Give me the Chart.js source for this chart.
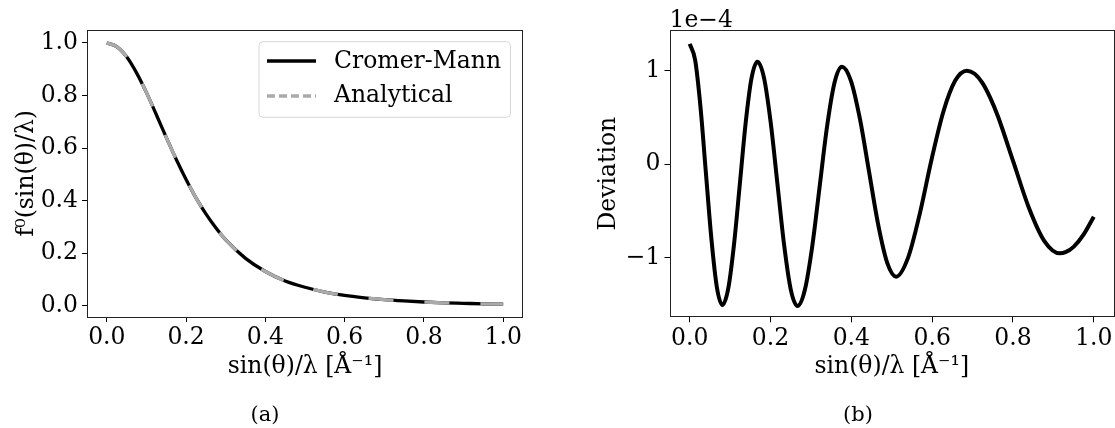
<!DOCTYPE html>
<html>
<head>
<meta charset="utf-8">
<script src="https://cdn.jsdelivr.net/npm/chart.js@4.4.1/dist/chart.umd.min.js"></script>
<style>
  html, body { margin: 0; padding: 0; background: #fff; }
  #wrap { position: relative; width: 1115px; height: 428px; overflow: hidden; }
  canvas { position: absolute; top: 0; }
  .cap { position: absolute; font-family: "DejaVu Serif", serif; font-size: 21px; color: #000;
         transform: translate(-50%, -50%); white-space: nowrap; }
</style>
</head>
<body>
<div id="wrap">
  <canvas id="ca" width="557" height="428" style="left:0px"></canvas>
  <canvas id="cb" width="558" height="428" style="left:557px"></canvas>
  <div class="cap" style="left:265px; top:414px">(a)</div>
  <div class="cap" style="left:858px; top:414px">(b)</div>
</div>
<script>
// ---------- data ----------
const sX = [0, 0.025, 0.05, 0.075, 0.1, 0.125, 0.15, 0.175, 0.2, 0.225, 0.25, 0.275, 0.3,
            0.35, 0.4, 0.45, 0.5, 0.55, 0.6, 0.65, 0.7, 0.75, 0.8, 0.85, 0.9, 0.95, 1.0];
const cromerMann = [1.000, 0.986, 0.947, 0.886, 0.811, 0.727, 0.641, 0.558, 0.481, 0.411, 0.350, 0.297, 0.251,
                    0.181, 0.131, 0.095, 0.071, 0.053, 0.040, 0.031, 0.024, 0.019, 0.015, 0.012, 0.010, 0.008, 0.007];
const analytical = [1.000, 0.986, 0.947, 0.886, 0.811, 0.727, 0.641, 0.558, 0.481, 0.411, 0.350, 0.297, 0.251,
                    0.181, 0.131, 0.095, 0.071, 0.053, 0.040, 0.031, 0.024, 0.019, 0.015, 0.012, 0.010, 0.008, 0.007];

// deviation (Cromer-Mann - analytical), in units of 1e-4
const devExponent = -4;
const devX = [0, 0.0135, 0.0269, 0.0404, 0.0539, 0.0673, 0.0808, 0.0953, 0.1097, 0.1242, 0.1386, 0.1531,
              0.1675, 0.1840, 0.2005, 0.2171, 0.2336, 0.2501, 0.2666, 0.2849, 0.3033, 0.3216, 0.3399, 0.3583,
              0.3766, 0.3990, 0.4214, 0.4438, 0.4662, 0.4886, 0.511, 0.5402, 0.5693, 0.5985, 0.6277, 0.6568,
              0.686, 0.7051, 0.7243, 0.7435, 0.7627, 0.8010, 0.8393, 0.8777, 0.916, 0.93, 0.95, 0.975, 1.0];
const devY = [1.283, 1.110, 0.600, -0.110, -0.807, -1.316, -1.503, -1.329, -0.854, -0.205, 0.445, 0.920,
              1.094, 0.919, 0.442, -0.210, -0.861, -1.338, -1.513, -1.342, -0.875, -0.237, 0.402, 0.869,
              1.040, 0.890, 0.480, -0.080, -0.640, -1.050, -1.200, -1.000, -0.530, 0.050, 0.560, 0.890,
              0.998, 0.965, 0.867, 0.710, 0.511, 0.024, -0.464, -0.820, -0.951, -0.939, -0.882, -0.749, -0.560];

const xTicks = [0, 0.2, 0.4, 0.6, 0.8, 1.0];
const fTicks = [0, 0.2, 0.4, 0.6, 0.8, 1.0];
const devTicks = [-1, 0, 1];
const legendLabels = ['Cromer-Mann', 'Analytical'];

// ---------- styling ----------
const FONT = "'DejaVu Serif', serif";
const FS = 23.5;
const fnt = { family: FONT, size: FS };
const xTitle = 'sin(θ)/λ [Å⁻¹]';

const framePlugin = {
  id: 'frame',
  afterDraw(chart) {
    const { ctx, chartArea: a } = chart;
    ctx.save();
    ctx.strokeStyle = '#222';
    ctx.lineWidth = 1;
    ctx.strokeRect(Math.round(a.left) + 0.5, Math.round(a.top) + 0.5,
                   Math.round(a.right - a.left) - 1, Math.round(a.bottom - a.top) - 1);
    ctx.restore();
  }
};

function pairs(xs, ys) { return xs.map((x, i) => ({ x: x, y: ys[i] })); }

function xScale(h) {
  return {
    type: 'linear', min: -0.05, max: 1.05,
    afterBuildTicks: s => { s.ticks = xTicks.map(v => ({ value: v })); },
    afterFit: s => { s.height = h; },
    ticks: { font: fnt, color: '#000', padding: 2, maxRotation: 0, autoSkip: false,
             callback: v => Number(v).toFixed(1) },
    grid: { drawOnChartArea: false, drawTicks: true, tickLength: 5, color: '#000' },
    border: { display: false },
    title: { display: true, text: xTitle, font: fnt, color: '#000', padding: { top: 0, bottom: 47 } }
  };
}

// ---------- chart (a) ----------
const legendPlugin = {
  id: 'mplLegend',
  afterDraw(chart) {
    const ctx = chart.ctx;
    ctx.save();
    const x0 = 259, y0 = 41.7, x1 = 510.5, y1 = 117.3, r = 4;
    ctx.beginPath();
    ctx.moveTo(x0 + r, y0); ctx.lineTo(x1 - r, y0); ctx.quadraticCurveTo(x1, y0, x1, y0 + r);
    ctx.lineTo(x1, y1 - r); ctx.quadraticCurveTo(x1, y1, x1 - r, y1);
    ctx.lineTo(x0 + r, y1); ctx.quadraticCurveTo(x0, y1, x0, y1 - r);
    ctx.lineTo(x0, y0 + r); ctx.quadraticCurveTo(x0, y0, x0 + r, y0);
    ctx.closePath();
    ctx.fillStyle = 'rgba(255,255,255,0.8)';
    ctx.fill();
    ctx.strokeStyle = '#d6d6d6';
    ctx.lineWidth = 1;
    ctx.stroke();
    ctx.lineWidth = 3.3;
    ctx.strokeStyle = '#000';
    ctx.beginPath(); ctx.moveTo(267, 61); ctx.lineTo(316, 61); ctx.stroke();
    ctx.strokeStyle = '#aaaaaa';
    ctx.setLineDash([8, 4]);
    ctx.beginPath(); ctx.moveTo(267, 96); ctx.lineTo(316, 96); ctx.stroke();
    ctx.setLineDash([]);
    ctx.fillStyle = '#000';
    ctx.font = FS + "px " + FONT;
    ctx.textBaseline = 'middle';
    ctx.textAlign = 'left';
    ctx.fillText(legendLabels[0], 334, 62);
    ctx.fillText(legendLabels[1], 334, 96);
    ctx.restore();
  }
};

new Chart(document.getElementById('ca'), {
  type: 'line',
  data: {
    datasets: [
      { label: legendLabels[1], data: pairs(sX, analytical), borderColor: '#aaaaaa', borderWidth: 3.3,
        borderDash: [25, 31], pointRadius: 0, cubicInterpolationMode: 'monotone', fill: false, order: 0 },
      { label: legendLabels[0], data: pairs(sX, cromerMann), borderColor: '#000', borderWidth: 3.3,
        pointRadius: 0, cubicInterpolationMode: 'monotone', fill: false, order: 1 }
    ]
  },
  options: {
    responsive: false, animation: false, devicePixelRatio: 1,
    layout: { padding: { left: 0, top: 29.5, right: 34, bottom: 0 } },
    plugins: { legend: { display: false }, tooltip: { enabled: false } },
    scales: {
      x: xScale(111),
      y: {
        type: 'linear', min: -0.042, max: 1.051,
        afterBuildTicks: s => { s.ticks = fTicks.map(v => ({ value: v })); },
        afterFit: s => { s.width = 87; },
        ticks: { font: fnt, color: '#000', padding: 4, callback: v => Number(v).toFixed(1) },
        grid: { drawOnChartArea: false, drawTicks: true, tickLength: 5, color: '#000' },
        border: { display: false },
        title: { display: true, text: 'f⁰(sin(θ)/λ)', font: fnt, color: '#000', padding: { top: 13, bottom: 0 } }
      }
    }
  },
  plugins: [framePlugin, legendPlugin]
});

// ---------- chart (b) ----------
const offsetPlugin = {
  id: 'offsetText',
  afterDraw(chart) {
    const { ctx, chartArea: a } = chart;
    ctx.save();
    ctx.fillStyle = '#000';
    ctx.font = FS + "px " + FONT;
    ctx.textAlign = 'left';
    ctx.textBaseline = 'alphabetic';
    ctx.fillText('1e−' + Math.abs(devExponent), a.left, a.top - 3);
    ctx.restore();
  }
};

new Chart(document.getElementById('cb'), {
  type: 'line',
  data: {
    datasets: [
      { label: 'Deviation', data: pairs(devX, devY), borderColor: '#000', borderWidth: 4,
        pointRadius: 0, cubicInterpolationMode: 'monotone', fill: false }
    ]
  },
  options: {
    responsive: false, animation: false, devicePixelRatio: 1,
    layout: { padding: { left: 0, top: 30, right: 1, bottom: 0 } },
    plugins: { legend: { display: false }, tooltip: { enabled: false } },
    scales: {
      x: xScale(110.7),
      y: {
        type: 'linear', min: -1.634, max: 1.432,
        afterBuildTicks: s => { s.ticks = devTicks.map(v => ({ value: v })); },
        afterFit: s => { s.width = 112.5; },
        ticks: { font: fnt, color: '#000', padding: 4,
                 callback: v => (v < 0 ? '−' + Math.abs(v) : String(v)) },
        grid: { drawOnChartArea: false, drawTicks: true, tickLength: 5, color: '#000' },
        border: { display: false },
        title: { display: true, text: 'Deviation', font: fnt, color: '#000', padding: { top: 38, bottom: 0 } }
      }
    }
  },
  plugins: [framePlugin, offsetPlugin]
});
</script>
</body>
</html>
